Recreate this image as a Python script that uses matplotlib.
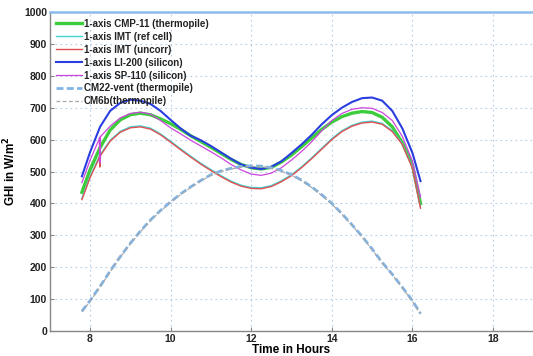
import matplotlib
matplotlib.use("Agg")
import matplotlib.pyplot as plt

# ==========================
# Data
# ==========================

hours = [7.8, 8.0, 8.25, 8.5, 8.75, 9.0, 9.25, 9.5, 9.75, 10.0,
         10.25, 10.5, 10.75, 11.0, 11.25, 11.5, 11.75, 12.0, 12.25, 12.5,
         12.75, 13.0, 13.25, 13.5, 13.75, 14.0, 14.25, 14.5, 14.75, 15.0,
         15.25, 15.5, 15.75, 16.0, 16.2]

cmp11 = [435, 505, 575, 630, 662, 678, 683, 678, 665, 650,
         632, 612, 594, 576, 557, 538, 522, 512, 508, 513,
         530, 552, 578, 605, 632, 655, 672, 683, 688, 685,
         670, 640, 590, 520, 400]

imt_ref = [416, 484, 552, 598, 626, 640, 643, 636, 618, 595,
           571, 548, 526, 506, 487, 470, 457, 450, 449, 456,
           471, 490, 515, 543, 573, 603, 628, 645, 655, 658,
           651, 628, 588, 513, 388]

imt_uncorr = [412, 480, 548, 595, 623, 637, 640, 633, 615, 592,
              568, 545, 523, 503, 484, 467, 454, 447, 446, 453,
              468, 487, 512, 540, 570, 600, 625, 642, 652, 655,
              648, 625, 585, 510, 385]

li200 = [485, 560, 640, 690, 715, 725, 722, 712, 690, 662,
         635, 612, 598, 580, 560, 540, 522, 512, 508, 515,
         532, 558, 585, 615, 648, 677, 700, 718, 730, 732,
         722, 690, 635, 558, 470]

sp110 = [465, 535, 608, 642, 668, 682, 686, 680, 660, 637,
         618, 598, 580, 562, 543, 522, 505, 492, 488, 495,
         512, 536, 563, 593, 628, 660, 682, 695, 700, 698,
         685, 660, 610, 532, 420]

cm22 = [62, 95, 140, 188, 233, 275, 313, 348, 378, 405,
        430, 452, 472, 490, 502, 510, 516, 518, 517, 512,
        503, 490, 473, 452, 427, 400, 368, 333, 297, 257,
        215, 178, 137, 95, 55]

cm6b = [60, 93, 138, 186, 231, 273, 311, 346, 376, 403,
        428, 450, 470, 488, 500, 508, 514, 516, 515, 510,
        501, 488, 471, 450, 425, 398, 366, 331, 295, 255,
        213, 176, 135, 93, 53]

# short glitches near 8.25 h
glitch_t = [8.23, 8.245, 8.26]
sp110_glitch = [605, 527, 610]
imt_uncorr_glitch = [545, 514, 550]

# ==========================
# Plot
# ==========================

plt.rcParams["font.family"] = ["Liberation Sans", "DejaVu Sans"]

fig = plt.figure(figsize=(5.33, 3.56), dpi=100)
ax = fig.add_axes([0.0932, 0.0702, 0.9075, 0.896])

ax.plot(hours, cmp11, color="#3ccc3c", lw=2.4, label="1-axis CMP-11 (thermopile)")
ax.plot(hours, imt_ref, color="#40d4d4", lw=1.0, label="1-axis IMT (ref cell)")
ax.plot(hours, imt_uncorr, color="#e05050", lw=1.0, label="1-axis IMT (uncorr)")
ax.plot(glitch_t, imt_uncorr_glitch, color="#e05050", lw=1.0)
ax.plot(hours, li200, color="#2a3ee0", lw=1.5, label="1-axis LI-200 (silicon)")
ax.plot(hours, sp110, color="#cc44dd", lw=0.9, label="1-axis SP-110 (silicon)")
ax.plot(glitch_t, sp110_glitch, color="#cc44dd", lw=0.9)
ax.plot(hours, cm22, color="#80b4e6", lw=2.0, ls=(0, (2.5, 1.2)), label="CM22-vent (thermopile)")
ax.plot(hours, cm6b, color="#a8a8a8", lw=0.9, ls=(0, (3, 2)), label="CM6b(thermopile)")

ax.set_xlim(7, 19)
ax.set_ylim(0, 1000)
ax.set_xticks([8, 10, 12, 14, 16, 18])
ax.set_yticks(range(0, 1001, 100))

ax.grid(True, color="#b4cce8", ls=(0, (1.5, 3)), lw=0.8)
ax.tick_params(direction="in", length=3, color="#888888", labelsize=7.5, pad=2)
for lbl in ax.get_xticklabels() + ax.get_yticklabels():
    lbl.set_fontweight("bold")
    lbl.set_color("#222222")

for side in ["left", "bottom"]:
    ax.spines[side].set_color("#888888")
    ax.spines[side].set_linewidth(1.0)
ax.spines["top"].set_color("#8cbcec")
ax.spines["top"].set_linewidth(1.8)
ax.spines["right"].set_visible(False)

ax.set_xlabel("Time in Hours", fontsize=8.5, fontweight="bold", labelpad=0)
ax.set_ylabel("GHI in W/m$^\\mathbf{2}$", fontsize=8.5, fontweight="bold", labelpad=4)

leg = ax.legend(loc="upper left", bbox_to_anchor=(0.0, 1.0), frameon=False,
                fontsize=7, handlelength=2.6, handletextpad=0.2,
                labelspacing=0.3, borderaxespad=0.3)
for t in leg.get_texts():
    t.set_fontweight("bold")
    t.set_color("#222222")

fig.savefig("out.png", dpi=100)
plt.close(fig)
